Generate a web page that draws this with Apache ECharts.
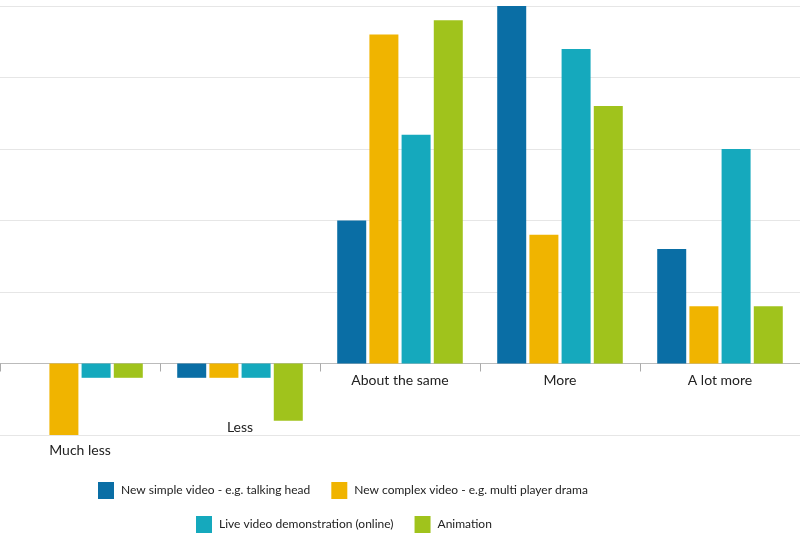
<!DOCTYPE html>
<html><head><meta charset="utf-8">
<script src="https://cdn.jsdelivr.net/npm/echarts@6/dist/echarts.min.js"></script>
<style>html,body{margin:0;padding:0;background:#fff}#c{width:800px;height:540px}</style>
</head><body><div id="c"></div>
<script>
const categories = ['Much less', 'Less', 'About the same', 'More', 'A lot more'];
const seriesNames = ['New simple video - e.g. talking head', 'New complex video - e.g. multi player drama', 'Live video demonstration (online)', 'Animation'];
const simpleVideo = [0, -0.2, 2.0, 5.0, 1.6];
const complexVideo = [-1.0, -0.2, 4.6, 1.8, 0.8];
const liveDemo = [-0.2, -0.2, 3.2, 4.4, 3.0];
const animation = [-0.2, -0.8, 4.8, 3.6, 0.8];
const colors = ['#0a6ea5', '#f0b400', '#15a9bd', '#a0c31c'];
const values = [simpleVideo, complexVideo, liveDemo, animation];
const FONT = 'Lato';
const chart = echarts.init(document.getElementById('c'), null, {renderer: 'canvas'});
chart.setOption({
  animation: false,
  grid: {left: 0, right: 0, top: 6, bottom: 105, containLabel: false},
  legend: [
    {data: seriesNames.slice(0, 2), left: 93, top: 477, itemWidth: 16, itemHeight: 17, itemGap: 21, icon: 'rect',
     textStyle: {fontFamily: FONT, fontSize: 12, color: '#222', padding: [0, 0, 0, 2]}},
    {data: seriesNames.slice(2, 4), left: 191, top: 511, itemWidth: 16, itemHeight: 17, itemGap: 21, icon: 'rect',
     textStyle: {fontFamily: FONT, fontSize: 12, color: '#222', padding: [0, 0, 0, 2]}}
  ],
  xAxis: {
    type: 'category', data: categories,
    axisLine: {onZero: true, lineStyle: {color: '#bbb', width: 1}},
    axisTick: {show: true, length: 8, lineStyle: {color: '#aaa'}},
    axisLabel: {
      fontFamily: FONT, fontSize: 14, color: '#222', margin: -62,
      formatter: function (v) {
        if (v === 'Much less') return '{ml|' + v + '}';
        if (v === 'Less') return '{l|' + v + '}';
        return v;
      },
      rich: {
        ml: {fontFamily: FONT, fontSize: 14, color: '#222', padding: [70, 0, 0, 0]},
        l: {fontFamily: FONT, fontSize: 14, color: '#222', padding: [47, 0, 0, 0]}
      }
    }
  },
  yAxis: {
    type: 'value', min: -1, max: 5, interval: 1,
    axisLabel: {show: false}, axisLine: {show: false}, axisTick: {show: false},
    splitLine: {lineStyle: {color: '#e6e6e6'}}
  },
  series: values.map((d, i) => ({
    name: seriesNames[i], type: 'bar', data: d, barWidth: 29, barGap: '11%',
    itemStyle: {color: colors[i]}
  }))
});
</script></body></html>
